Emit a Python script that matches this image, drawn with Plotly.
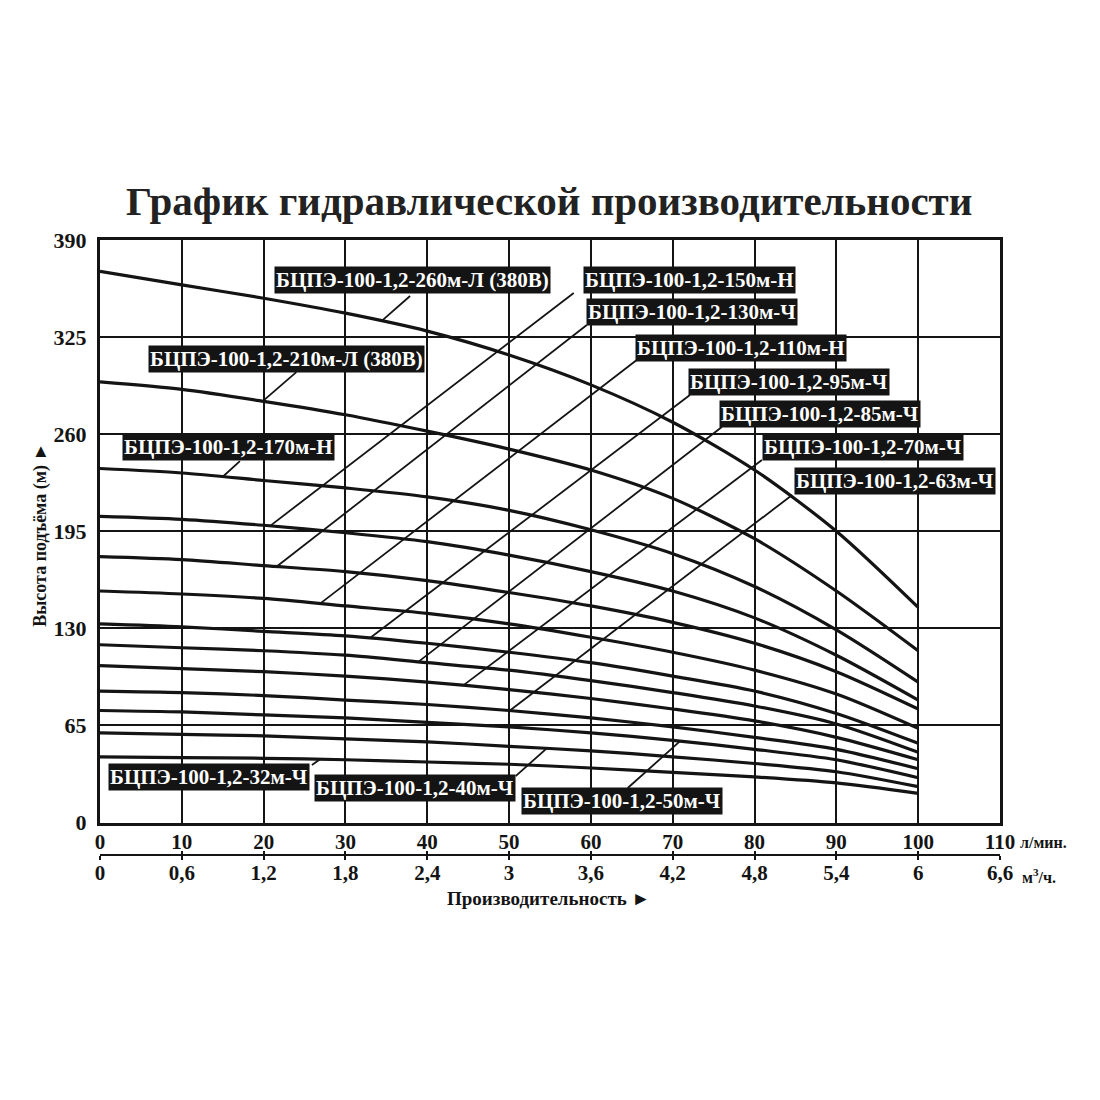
import numpy as np
import plotly.graph_objects as go

# flow, l/min
flow_lpm = [0, 10, 20, 30, 40, 50, 60, 70, 80, 90, 100]

# head (m) of each pump
head_260 = [369, 360, 351, 341, 329, 313, 293, 268, 236, 195, 144]
head_210 = [295, 290, 282, 273, 262, 250, 236, 217, 190, 155, 115]
head_170 = [237, 234, 229, 224, 218, 209, 196, 180, 158, 129, 94]
head_150 = [205, 203, 199, 194, 188, 179, 168, 155, 137, 112, 82]
head_130 = [178, 176, 172, 168, 162, 154, 145, 134, 120, 101, 76]
head_110 = [155, 153, 150, 145, 140, 133, 124, 114, 102, 86, 63]
head_95 = [133, 131, 128, 125, 120, 114, 107, 98, 88, 73, 53]
head_85 = [119, 117, 115, 112, 107, 102, 95, 87, 78, 66, 47]
head_70 = [105, 103, 101, 98, 94, 89, 83, 76, 68, 57, 42]
head_63 = [88, 87, 85, 82, 79, 75, 70, 64, 57, 49, 36]
head_50 = [75, 74, 72, 70, 67, 64, 60, 55, 49, 42, 30]
head_40 = [60, 59, 58, 56, 54, 51, 48, 44, 39.5, 34, 24]
head_32 = [44, 43.5, 43, 42, 40.5, 39, 36.5, 33.5, 30.5, 26.5, 19.5]

models = ["БЦПЭ-100-1,2-260м-Л (380В)", "БЦПЭ-100-1,2-210м-Л (380В)",
          "БЦПЭ-100-1,2-170м-Н", "БЦПЭ-100-1,2-150м-Н", "БЦПЭ-100-1,2-130м-Ч",
          "БЦПЭ-100-1,2-110м-Н", "БЦПЭ-100-1,2-95м-Ч", "БЦПЭ-100-1,2-85м-Ч",
          "БЦПЭ-100-1,2-70м-Ч", "БЦПЭ-100-1,2-63м-Ч", "БЦПЭ-100-1,2-50м-Ч",
          "БЦПЭ-100-1,2-40м-Ч", "БЦПЭ-100-1,2-32м-Ч"]
heads = [head_260, head_210, head_170, head_150, head_130, head_110, head_95,
         head_85, head_70, head_63, head_50, head_40, head_32]

y_ticks = [0, 65, 130, 195, 260, 325, 390]
x_ticks = [0, 10, 20, 30, 40, 50, 60, 70, 80, 90, 100, 110]
m3h_labels = ["0", "0,6", "1,2", "1,8", "2,4", "3", "3,6", "4,2", "4,8", "5,4", "6", "6,6"]

# label box centre (Q, H), leader start (Q, H), flow where the leader meets the curve
label_pos = [
    (38.2, 362.9, 37.9, 352.5, 34.4),
    (22.8, 310.6, 24.0, 301.5, 19.9),
    (15.7, 251.7, 17.1, 242.0, 15.0),
    (72.1, 363.2, 57.9, 354.5, 20.8),
    (72.4, 342.1, 59.5, 333.1, 21.6),
    (78.4, 318.0, 65.6, 309.6, 26.9),
    (84.2, 295.2, 72.1, 286.2, 33.0),
    (88.0, 273.8, 76.0, 264.8, 38.9),
    (93.3, 251.7, 80.9, 242.7, 44.4),
    (97.2, 228.6, 84.6, 219.3, 50.1),
    (63.8, 14.1, 64.5, 23.1, 70.9),
    (38.5, 22.8, 50.8, 31.1, 54.6),
    (13.3, 30.8, 25.9, 38.5, 26.9),
]

INK = "#141414"
SERIF = "Liberation Serif"

fig = go.Figure()

for name, h in zip(models, heads):
    fig.add_trace(go.Scatter(x=flow_lpm, y=h, mode="lines", name=name,
                             line=dict(color=INK, width=3.2, shape="spline", smoothing=0.8),
                             hoverinfo="skip"))

for (cx, cy, sx, sy, tq), h, name in zip(label_pos, heads, models):
    th = float(np.interp(tq, flow_lpm, h))
    fig.add_trace(go.Scatter(x=[sx, tq], y=[sy, th], mode="lines",
                             line=dict(color=INK, width=1.8), hoverinfo="skip"))
    fig.add_annotation(x=cx, y=cy, xref="x", yref="y", text=name, showarrow=False,
                       bgcolor=INK, borderpad=1,
                       font=dict(family=SERIF, size=21, color="white", weight="bold"))

# dummy traces so the second flow scale is drawn
fig.add_trace(go.Scatter(x=[0], y=[0], xaxis="x2", mode="none", hoverinfo="skip"))
fig.add_trace(go.Scatter(x=[0], y=[0], xaxis="x3", mode="none", hoverinfo="skip"))

axis_font = dict(family=SERIF, size=21, color=INK, weight="bold")
scale_pos = (920 - 854.5) / 680

# page body has an 8 px margin, so the margins below are shifted by 8 px
fig.update_layout(
    width=1100, height=1100,
    paper_bgcolor="white", plot_bgcolor="white",
    margin=dict(l=92, r=108, t=232, b=188),
    showlegend=False,
    font=dict(family=SERIF, color=INK),
    title=dict(text="График гидравлической производительности", x=0.492, xanchor="center",
               y=1 - 193 / 1100, yanchor="middle",
               font=dict(family=SERIF, size=41, color="#222", weight="bold")),
    xaxis=dict(range=[0, 110], tickvals=x_ticks, ticktext=[str(v) for v in x_ticks],
               showgrid=True, gridcolor=INK, gridwidth=2, showline=True, linecolor=INK,
               linewidth=3, mirror=True, ticks="", zeroline=False, tickfont=axis_font,
               ticklabelstandoff=-2, fixedrange=True),
    yaxis=dict(range=[0, 390], domain=[(920 - 822.5) / 680, 1], tickvals=y_ticks,
               showgrid=True, gridcolor=INK, gridwidth=2, showline=True, linecolor=INK,
               linewidth=3, mirror=True, ticks="", zeroline=False,
               tickfont=dict(family=SERIF, size=22, color=INK, weight="bold"),
               ticklabelstandoff=6, fixedrange=True),
    xaxis2=dict(range=[0, 110], overlaying="x", anchor="free", position=scale_pos,
                side="bottom", tickvals=x_ticks, ticktext=m3h_labels, showgrid=False,
                showline=True, linecolor=INK, linewidth=2, ticks="outside", ticklen=4,
                tickwidth=2, tickcolor=INK, zeroline=False, tickfont=axis_font,
                ticklabelstandoff=-5),
    xaxis3=dict(range=[0, 110], overlaying="x", anchor="free", position=scale_pos,
                side="bottom", tickvals=x_ticks, showticklabels=False, showgrid=False,
                showline=False, ticks="inside", ticklen=4, tickwidth=2, tickcolor=INK,
                zeroline=False),
)

fig.add_annotation(x=1.02, y=(920 - 842) / 680, xref="paper", yref="paper",
                   text="л/мин.", showarrow=False, xanchor="left", yanchor="middle",
                   font=dict(family=SERIF, size=16, color=INK, weight="bold"))
fig.add_annotation(x=1.022, y=(920 - 876) / 680, xref="paper", yref="paper",
                   text="м<sup>3</sup>/ч.", showarrow=False, xanchor="left", yanchor="middle",
                   font=dict(family=SERIF, size=16, color=INK, weight="bold"))
fig.add_annotation(x=0.498, y=(920 - 898) / 680, xref="paper", yref="paper",
                   text="Производительность ►", showarrow=False,
                   xanchor="center", yanchor="middle",
                   font=dict(family=SERIF, size=19, color=INK, weight="bold"))
fig.add_annotation(x=-0.067, y=(920 - 535) / 680, xref="paper", yref="paper",
                   text="Высота подъёма (м) ►", showarrow=False, textangle=-90,
                   xanchor="center", yanchor="middle",
                   font=dict(family=SERIF, size=18, color=INK, weight="bold"))

fig.write_html("out.html")
